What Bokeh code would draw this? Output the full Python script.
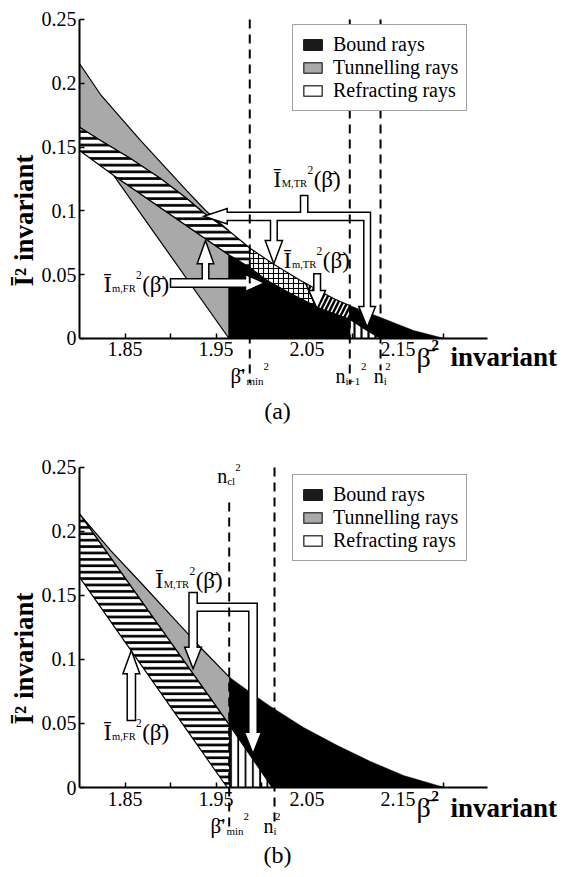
import numpy as np
from bokeh.plotting import figure
from bokeh.models import Range1d, FixedTicker, Legend, LegendItem
from bokeh.layouts import column
from bokeh.embed import file_html
from bokeh.resources import INLINE
from bokeh.core.properties import value

FONT = "Liberation Serif"
W = 567
LEFT = 79
BASE_FIX = 8  # px lift for alphabetic-baseline texts

# ---------------- panel (a) ----------------
# upper envelope (top of tunnelling / whole domain)
A_UPPER_X = [1.8000, 1.8231, 1.8670, 1.9165, 1.9385, 1.9637, 1.9879, 2.0121, 2.0429, 2.0791, 2.0967, 2.1308, 2.1670, 2.1989, 2.2055]
A_UPPER_Y = [0.2155, 0.1912, 0.1552, 0.1168, 0.1003, 0.0846, 0.0705, 0.0588, 0.0455, 0.0313, 0.0259, 0.0165, 0.0063, 0.0004, 0.0000]
# lower edge of the upper tunnelling band
A_BAND_X = [1.8000, 1.8231, 1.8560, 1.8890, 1.9165, 1.9363, 1.9637]
A_BAND_Y = [0.1656, 0.1552, 0.1411, 0.1254, 0.1105, 0.0985, 0.0846]
# lower tunnelling triangle (apex, foot, top-right)
A_TRI_X = [1.8377, 1.9643, 1.9643]
A_TRI_Y = [0.1277, 0.0000, 0.0655]
A_STRIP_LEFT_Y = 0.1473
# top of bound region
A_BOUND_X = [1.9643, 1.9871, 2.0063, 2.0319, 2.0648, 2.0970, 2.1143, 2.1308]
A_BOUND_Y = [0.0655, 0.0556, 0.0455, 0.0353, 0.0235, 0.0150, 0.0070, 0.0000]
# crosshatch / diagonal split (x on upper curve, x on bound curve)
A_SPLIT_X = [2.0484, 2.0593]
# vertical dashed lines: beta'_min^2, n_{i+1}^2, n_i^2
A_VLINE_X = [1.9871, 2.0970, 2.1308]
A_VLINE_Y0 = [0.25, 0.25, 0.25]
A_VLINE_Y1 = [-0.035, -0.036, -0.025]

# ---------------- panel (b) ----------------
B_UPPER_X = [1.8000, 1.8341, 1.8692, 1.9055, 1.9330, 1.9652, 1.9879, 2.0099, 2.0462, 2.0835, 2.1198, 2.1560, 2.1934, 2.2022]
B_UPPER_Y = [0.2138, 0.1852, 0.1586, 0.1305, 0.1094, 0.0859, 0.0742, 0.0633, 0.0469, 0.0328, 0.0203, 0.0094, 0.0016, 0.0000]
B_HATCH_TOP_X = [1.8000, 1.9652]
B_HATCH_TOP_Y = [0.2138, 0.0484]
B_HATCH_BOT_X = [1.8000, 1.9623]
B_HATCH_BOT_Y = [0.1643, 0.0000]
B_BOUND_LOW_X = [1.9652, 2.0118]
B_BOUND_LOW_Y = [0.0484, 0.0000]
B_VLINE_X = [1.9645, 2.0143]
B_VLINE_Y0 = [0.2227, 0.25]
B_VLINE_Y1 = [-0.0305, -0.028]

# ---------------- annotation arrows (data coords) ----------------
ARROW_A_MTR_X = [2.04286, 2.05088, 2.05088, 2.11978, 2.11978, 2.12527, 2.11615, 2.10692, 2.11242, 2.11242, 2.01725, 2.01725, 2.02308, 2.01352, 2.00407, 2.00989, 2.00989, 1.96231, 1.96231, 1.93659, 1.96231, 1.96231, 2.04286]
ARROW_A_MTR_Y = [0.11207, 0.11207, 0.09898, 0.09898, 0.02508, 0.02508, 0.00886, 0.02508, 0.02508, 0.09248, 0.09248, 0.07680, 0.07680, 0.05854, 0.07680, 0.07680, 0.09248, 0.09248, 0.08973, 0.09577, 0.10188, 0.09898, 0.09898]
ARROW_A_MTR2_X = [2.05747, 2.06484, 2.06484, 2.07033, 2.06121, 2.05198, 2.05747]
ARROW_A_MTR2_Y = [0.05071, 0.05071, 0.03762, 0.03762, 0.02328, 0.03762, 0.03762]
ARROW_A_MFR_X = [1.90000, 1.93484, 1.93484, 1.92934, 1.93846, 1.94758, 1.94209, 1.94209, 1.98242, 1.98242, 2.00330, 1.98242, 1.98242, 1.90000]
ARROW_A_MFR_Y = [0.04679, 0.04679, 0.05854, 0.05854, 0.07680, 0.05854, 0.05854, 0.04679, 0.04679, 0.05016, 0.04350, 0.03683, 0.04020, 0.04020]
ARROW_B_MTR_X = [1.92033, 1.92934, 1.92934, 1.99527, 1.99527, 2.00000, 1.99066, 1.98132, 1.98604, 1.98604, 1.92934, 1.92934, 1.93407, 1.92484, 1.91560, 1.92033]
ARROW_B_MTR_Y = [0.15234, 0.15234, 0.14398, 0.14398, 0.04320, 0.04320, 0.02633, 0.04320, 0.04320, 0.13773, 0.13773, 0.10961, 0.10961, 0.09273, 0.10961, 0.10961]
ARROW_B_MFR_X = [1.85242, 1.86154, 1.86154, 1.86626, 1.85698, 1.84769, 1.85242]
ARROW_B_MFR_Y = [0.05234, 0.05234, 0.08883, 0.08883, 0.10703, 0.08883, 0.08883]

X_TICKS = [1.85, 1.95, 2.05, 2.15]
X_MINOR = [1.90, 2.00, 2.10, 2.20]
Y_TICKS = [0.0, 0.05, 0.1, 0.15, 0.2, 0.25]
Y_TICK_LABELS = ["0", "0.05", "0.1", "0.15", "0.2", "0.25"]
LEGEND_LABELS = ["Bound rays", "Tunnelling rays", "Refracting rays"]
Y_LABEL = "\u012A\u00B2 invariant"

BLACK = "#000000"
GRAY = "#a9a9a9"
XR = (1.8, 2.33626)


def curve(xs, ys, x0, x1):
    xs = np.asarray(xs, float)
    ys = np.asarray(ys, float)
    pts = [(x0, float(np.interp(x0, xs, ys)))]
    pts += [(float(a), float(b)) for a, b in zip(xs, ys) if x0 + 1e-9 < a < x1 - 1e-9]
    pts.append((x1, float(np.interp(x1, xs, ys))))
    return pts


def poly(p, pts, **kw):
    style = dict(line_color="black", line_width=1.2)
    style.update(kw)
    p.patch([q[0] for q in pts], [q[1] for q in pts], **style)


def make_fig(height, yr):
    p = figure(width=W, height=height, x_range=Range1d(*XR), y_range=Range1d(*yr),
               output_backend="svg", toolbar_location=None, tools="", min_border=0,
               min_border_left=LEFT)
    p.grid.visible = False
    p.outline_line_color = None
    p.background_fill_color = "white"
    p.border_fill_color = "white"
    xa, ya = p.xaxis[0], p.yaxis[0]
    xa.fixed_location = 0
    xa.bounds = (1.8, 2.248)
    ya.bounds = (0, 0.25)
    xa.ticker = FixedTicker(ticks=X_TICKS, minor_ticks=X_MINOR)
    ya.ticker = FixedTicker(ticks=Y_TICKS)
    ya.major_label_overrides = {t: s for t, s in zip(Y_TICKS, Y_TICK_LABELS)}
    for ax in (xa, ya):
        ax.axis_line_width = 2
        ax.axis_line_color = "black"
        ax.major_tick_line_width = 1.5
        ax.minor_tick_line_width = 1.5
        ax.major_tick_in = 5
        ax.major_tick_out = 0
        ax.minor_tick_in = 5
        ax.minor_tick_out = 0
        ax.major_label_text_font = FONT
        ax.major_label_text_font_size = "20px"
        ax.major_label_text_color = "black"
    xa.major_label_standoff = 4
    ya.major_label_standoff = 3
    ya.axis_label = Y_LABEL
    ya.axis_label_text_font = FONT
    ya.axis_label_text_font_size = "27px"
    ya.axis_label_text_font_style = "bold"
    ya.axis_label_text_color = "black"
    ya.axis_label_standoff = 0
    return p


def put(p, x, y, text, size, dx=0.0, dy=0.0, bold=False, angle=0.0, align="left", baseline="alphabetic"):
    sx = (W - LEFT) / (p.x_range.end - p.x_range.start)
    sy = p.height / (p.y_range.end - p.y_range.start)
    if baseline == "alphabetic":
        dy += BASE_FIX
    p.text(x=[x + dx / sx], y=[y + dy / sy], text=[text], text_font=value(FONT),
           text_font_size=f"{size}px", text_font_style="bold" if bold else "normal",
           angle=angle, text_align=align, text_baseline=baseline, text_color="black")


def ilabel(p, x, y, sub, subw):
    s = 23
    put(p, x, y, "\u012A", s)
    put(p, x, y, sub, 10.5, dx=8.2, dy=-4)
    put(p, x, y, "2", 11.5, dx=8.6 + subw, dy=9)
    put(p, x, y, "(\u03B2\u0304)", s, dx=14.8 + subw)


def sym(p, x, y, main, sub, sup_dx, sub_dx=10, size=20):
    put(p, x, y, main, size)
    put(p, x, y, sub, 11, dx=sub_dx, dy=-5)
    put(p, x, y, "2", 11, dx=sup_dx, dy=9)


def x_label(p, x, y):
    put(p, x, y, "\u03B2\u0304", 28)
    put(p, x, y, "2", 15, dx=15, dy=12, bold=True)
    put(p, x, y, "invariant", 27, dx=34, bold=True)


def arrow(p, xs, ys):
    p.patch(xs, ys, fill_color="white", line_color="black", line_width=1.5, line_join="miter")


def add_legend(p, loc):
    r1 = p.quad(left=[9], right=[9.1], bottom=[9], top=[9.1], fill_color="#1a1a1a", line_color="#1a1a1a", line_width=1.5)
    r2 = p.quad(left=[9], right=[9.1], bottom=[9], top=[9.1], fill_color=GRAY, line_color="#444444", line_width=1.5)
    r3 = p.quad(left=[9], right=[9.1], bottom=[9], top=[9.1], fill_color="white", line_color="#444444", line_width=1.5)
    items = [LegendItem(label=l, renderers=[r]) for l, r in zip(LEGEND_LABELS, [r1, r2, r3])]
    lg = Legend(items=items, location=loc, border_line_color="#444444", border_line_width=1.5,
                background_fill_color="white", background_fill_alpha=1.0,
                label_text_font=FONT, label_text_font_size="20px", label_text_color="black",
                glyph_width=23, glyph_height=13, label_standoff=9, padding=8, spacing=-1,
                margin=0, label_height=18)
    p.add_layout(lg)


# ================= panel (a) =================
pa = make_fig(440, (-0.07994, 0.26489))
x_end_band = A_BAND_X[-1]
bmin, ni1, ni = A_VLINE_X
x0b = A_BOUND_X[0]

gray_band = curve(A_UPPER_X, A_UPPER_Y, 1.8, x_end_band) + list(zip(A_BAND_X, A_BAND_Y))[::-1][1:]
poly(pa, gray_band, fill_color=GRAY)
tri = list(zip(A_TRI_X, A_TRI_Y))
poly(pa, tri, fill_color=GRAY)
strip = (list(zip(A_BAND_X, A_BAND_Y)) + curve(A_UPPER_X, A_UPPER_Y, x_end_band, bmin)[1:]
         + curve(A_BOUND_X, A_BOUND_Y, x0b, bmin)[::-1] + [tri[0], (1.8, A_STRIP_LEFT_Y)])
poly(pa, strip, fill_color="white", hatch_pattern="horizontal_line", hatch_color="black",
     hatch_scale=6.7, hatch_weight=2.7)
black_a = ([(x0b, 0.0)] + curve(A_BOUND_X, A_BOUND_Y, x0b, ni1)
           + curve(A_UPPER_X, A_UPPER_Y, ni1, A_UPPER_X[-1]))
poly(pa, black_a, fill_color=BLACK, line_width=0.5)
cross = curve(A_UPPER_X, A_UPPER_Y, bmin, A_SPLIT_X[0]) + curve(A_BOUND_X, A_BOUND_Y, bmin, A_SPLIT_X[1])[::-1]
poly(pa, cross, fill_color="white", hatch_pattern="cross", hatch_color="black", hatch_scale=5, hatch_weight=1.1)
diag = curve(A_UPPER_X, A_UPPER_Y, A_SPLIT_X[0], ni1) + curve(A_BOUND_X, A_BOUND_Y, A_SPLIT_X[1], ni1)[::-1]
poly(pa, diag, fill_color="white", hatch_pattern="right_diagonal_line", hatch_color="black", hatch_scale=9, hatch_weight=2.5)
vh = curve(A_BOUND_X, A_BOUND_Y, ni1, ni) + [(ni, 0.0), (ni1, 0.0)]
poly(pa, vh, fill_color="white", hatch_pattern="vertical_line", hatch_color="black", hatch_scale=7, hatch_weight=2.2)

arrow(pa, ARROW_A_MTR_X, ARROW_A_MTR_Y)
arrow(pa, ARROW_A_MTR2_X, ARROW_A_MTR2_Y)
arrow(pa, ARROW_A_MFR_X, ARROW_A_MFR_Y)

pa.segment(x0=A_VLINE_X, y0=A_VLINE_Y0, x1=A_VLINE_X, y1=A_VLINE_Y1, line_color="black", line_width=2, line_dash="9 6")

ilabel(pa, 2.01319, 0.11857, "M,TR", 25.4)
ilabel(pa, 2.02451, 0.05486, "m,TR", 24.2)
ilabel(pa, 1.82670, 0.03605, "m,FR", 23.6)
sym(pa, 1.96593, -0.03527, "\u03B2\u0304'", "min", 33, sub_dx=16, size=21)
sym(pa, 2.08132, -0.03527, "n", "i+1", 25.5)
sym(pa, 2.12341, -0.03527, "n", "i", 11.5)
x_label(pa, 2.17033, -0.02116)
put(pa, 2.01758, -0.0572, "(a)", 24, align="center", baseline="middle")
add_legend(pa, (213, 329))

# ================= panel (b) =================
pb = make_fig(436, (-0.06953, 0.27109))
xg = B_HATCH_TOP_X[1]
gray_b = curve(B_UPPER_X, B_UPPER_Y, 1.8, xg) + [(xg, B_HATCH_TOP_Y[1])]
poly(pb, gray_b, fill_color=GRAY)
hatch_b = [(B_HATCH_TOP_X[0], B_HATCH_TOP_Y[0]), (xg, B_HATCH_TOP_Y[1]), (xg, 0.0),
           (B_HATCH_BOT_X[1], B_HATCH_BOT_Y[1]), (B_HATCH_BOT_X[0], B_HATCH_BOT_Y[0])]
poly(pb, hatch_b, fill_color="white", hatch_pattern="horizontal_line", hatch_color="black",
     hatch_scale=6.4, hatch_weight=2.7)
black_b = curve(B_UPPER_X, B_UPPER_Y, xg, B_UPPER_X[-1]) + [(B_BOUND_LOW_X[1], 0.0), (B_BOUND_LOW_X[0], B_BOUND_LOW_Y[0])]
poly(pb, black_b, fill_color=BLACK, line_width=0.5)
vh_b = [(B_BOUND_LOW_X[0], B_BOUND_LOW_Y[0]), (B_BOUND_LOW_X[1], 0.0), (B_BOUND_LOW_X[0], 0.0)]
poly(pb, vh_b, fill_color="white", hatch_pattern="vertical_line", hatch_color="black", hatch_scale=7.3, hatch_weight=1.8)

arrow(pb, ARROW_B_MTR_X, ARROW_B_MTR_Y)
arrow(pb, ARROW_B_MFR_X, ARROW_B_MFR_Y)

pb.segment(x0=B_VLINE_X, y0=B_VLINE_Y0, x1=B_VLINE_X, y1=B_VLINE_Y1, line_color="black", line_width=2, line_dash="9 6")

ilabel(pb, 1.88352, 0.15547, "M,TR", 25.4)
ilabel(pb, 1.82670, 0.03672, "m,FR", 23.6)
sym(pb, 1.95132, 0.23672, "n", "cl", 18)
sym(pb, 1.94396, -0.03594, "\u03B2\u0304'", "min", 33, sub_dx=16, size=21)
sym(pb, 2.00220, -0.03594, "n", "i", 11.5)
x_label(pb, 2.17033, -0.02188)
put(pb, 2.01758, -0.0531, "(b)", 24, align="center", baseline="middle")
add_legend(pb, (213, 315))

layout = column(pa, pb, spacing=0)
open("out.html", "w").write(file_html(layout, INLINE))
